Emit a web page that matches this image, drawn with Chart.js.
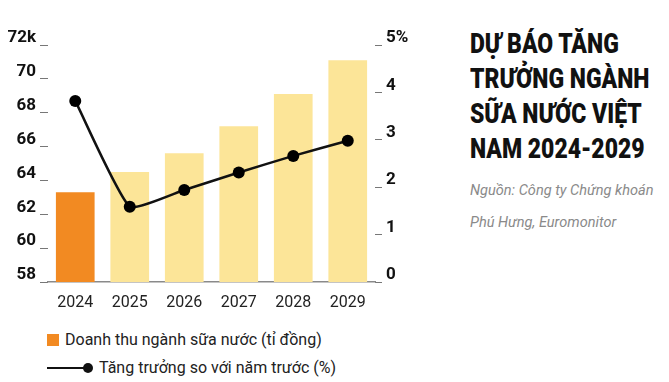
<!DOCTYPE html>
<html>
<head>
<meta charset="utf-8">
<script src="https://cdn.jsdelivr.net/npm/chart.js@4/dist/chart.umd.min.js"></script>
<style>
  body { margin: 0; background: #fff; font-family: Roboto, sans-serif; }
  #wrap { position: relative; width: 669px; height: 382px; overflow: hidden; }
  #chartBox { position: absolute; left: 0; top: 0; width: 420px; height: 315px; }
  #title { position: absolute; left: 470px; top: 26px; width: 260px; font-weight: 900; font-size: 28px; line-height: 35px; color: #111; transform: scaleX(0.82); transform-origin: left top; white-space: nowrap; }
  #source { position: absolute; left: 470px; top: 174px; font-style: italic; font-weight: 400; font-size: 15px; line-height: 32px; color: #8a8a8a; white-space: nowrap; transform: scaleX(0.97); transform-origin: left top; }
  .leg { position: absolute; left: 47px; font-size: 16px; color: #222; white-space: nowrap; display: flex; align-items: center; }
  .sq { width: 12px; height: 12px; background: #F28A22; margin-right: 6px; }
  .ln { position: relative; width: 42px; height: 2px; background: #111; margin-right: 10px; }
  .ln::after { content: ''; position: absolute; right: -4px; top: -4px; width: 10px; height: 10px; border-radius: 50%; background: #111; }
</style>
</head>
<body>
<div id="wrap">
  <div id="chartBox"><canvas id="myChart"></canvas></div>
  <div id="title">DỰ BÁO TĂNG<br>TRƯỞNG NGÀNH<br>SỮA NƯỚC VIỆT<br>NAM 2024-2029</div>
  <div id="source">Nguồn: Công ty Chứng khoán<br>Phú Hưng, Euromonitor</div>
  <div class="leg" style="top:330px"><span class="sq"></span>Doanh thu ngành sữa nước (tỉ đồng)</div>
  <div class="leg" style="top:358px"><span class="ln"></span>Tăng trưởng so với năm trước (%)</div>
</div>
<script>
var years = ['2024', '2025', '2026', '2027', '2028', '2029'];
var revenue = [63.3, 64.5, 65.6, 67.2, 69.1, 71.1];   // nghìn tỉ đồng
var growth = [3.82, 1.59, 1.94, 2.31, 2.66, 2.98];    // %
var barColors = ['#F28A22', '#FCE598', '#FCE598', '#FCE598', '#FCE598', '#FCE598'];

var tickFont = { family: 'Roboto', size: 17, weight: 'bold' };

var ctx = document.getElementById('myChart').getContext('2d');
var myChart = new Chart(ctx, {
    type: 'bar',
    data: {
        labels: years,
        datasets: [{
            type: 'line',
            label: 'Tăng trưởng so với năm trước (%)',
            data: growth,
            yAxisID: 'y2',
            borderColor: '#111',
            backgroundColor: '#000',
            borderWidth: 2.5,
            pointRadius: 6,
            pointBackgroundColor: '#000',
            pointBorderWidth: 0,
            tension: 0.15,
            order: 0
        }, {
            label: 'Doanh thu ngành sữa nước (tỉ đồng)',
            data: revenue,
            yAxisID: 'y',
            backgroundColor: barColors,
            barPercentage: 0.71,
            categoryPercentage: 1,
            order: 1
        }]
    },
    options: {
        responsive: true,
        maintainAspectRatio: false,
        animation: false,
        layout: { padding: { top: 45, left: 0, right: 0, bottom: 0 } },
        plugins: {
            legend: { display: false },
            tooltip: { enabled: false }
        },
        scales: {
            x: {
                grid: { display: false, drawTicks: false },
                border: { display: true, color: '#8a8a8a', width: 1.5 },
                ticks: { color: '#222', padding: 11, font: { family: 'Roboto', size: 16 } },
                afterFit: function (s) { s.height = 33; }
            },
            y: {
                position: 'left',
                min: 58,
                max: 72,
                ticks: {
                    stepSize: 2,
                    color: '#111',
                    padding: 4,
                    labelOffset: -7,
                    font: tickFont,
                    callback: function (v) { return v === 72 ? '72k' : v; }
                },
                grid: { drawOnChartArea: false, drawTicks: true, tickLength: 8, color: '#777' },
                border: { display: false },
                afterFit: function (s) { s.width = 48; }
            },
            y2: {
                position: 'right',
                min: 0,
                max: 5,
                ticks: {
                    stepSize: 1,
                    color: '#111',
                    padding: 4,
                    labelOffset: -7,
                    font: tickFont,
                    callback: function (v) { return v === 5 ? '5%' : v; }
                },
                grid: { drawOnChartArea: false, drawTicks: true, tickLength: 7, color: '#777' },
                border: { display: false },
                afterFit: function (s) { s.width = 45; }
            }
        }
    }
});
</script>
</body>
</html>
